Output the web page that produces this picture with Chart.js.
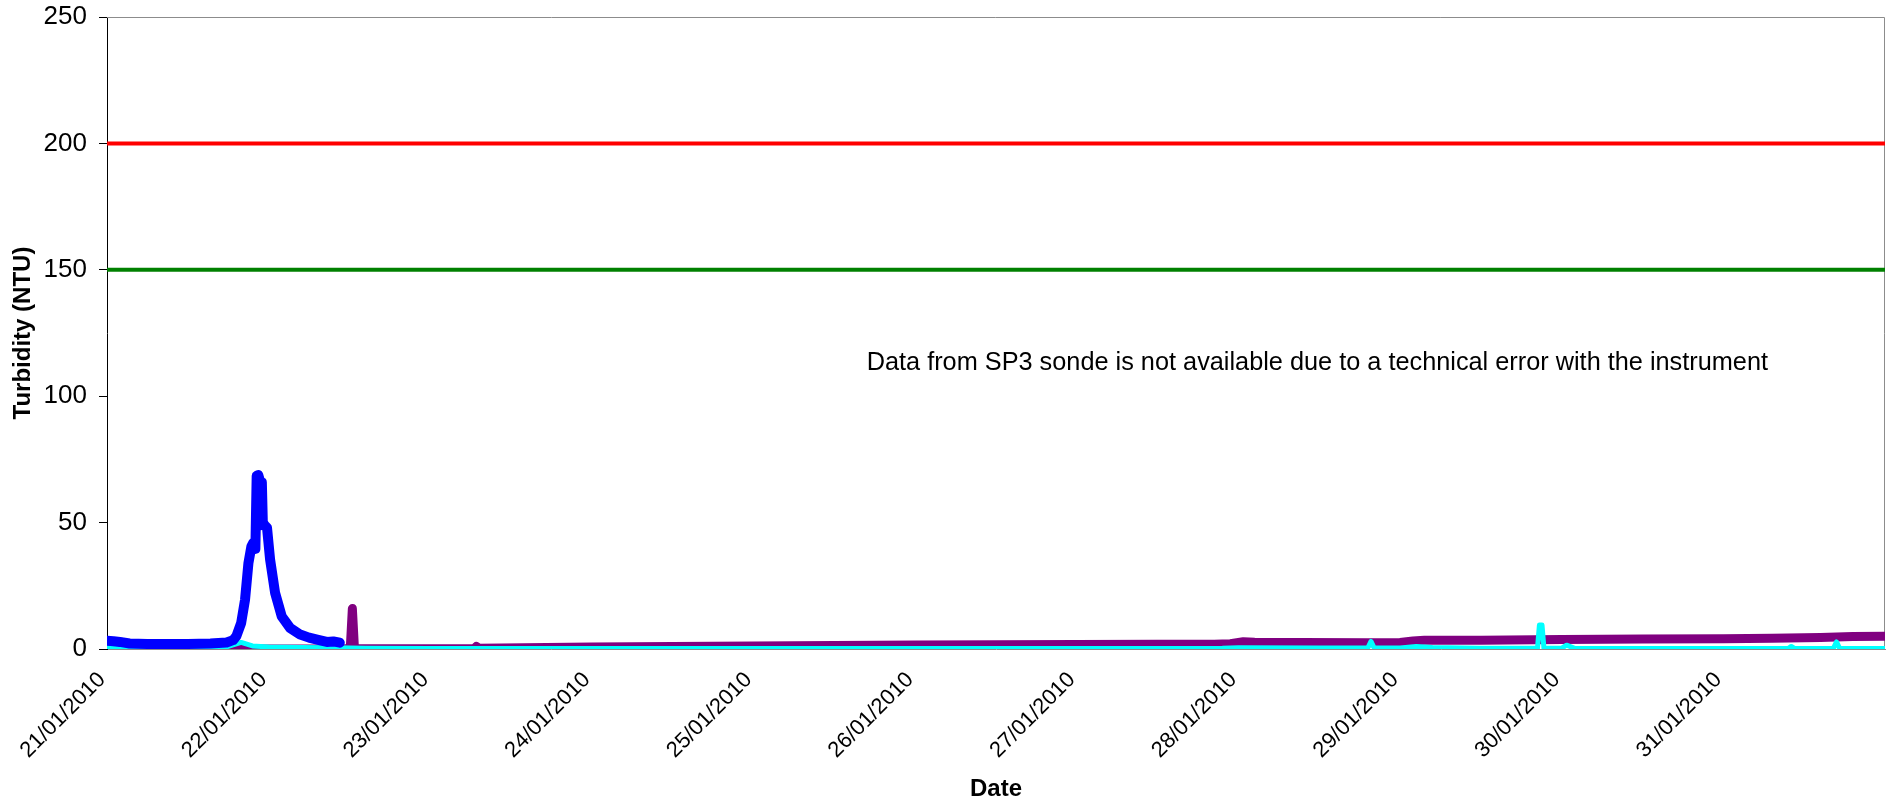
<!DOCTYPE html>
<html>
<head>
<meta charset="utf-8">
<script src="https://cdn.jsdelivr.net/npm/chart.js@4.4.1/dist/chart.umd.min.js"></script>
<style>
  html, body { margin: 0; padding: 0; background: #ffffff; }
  #wrap { width: 1886px; height: 807px; }
</style>
</head>
<body>
<div id="wrap"><canvas id="chart" width="1886" height="807"></canvas></div>
<script>
// Time axis is measured in days from 21/01/2010 00:00
const xTickLabels = ['21/01/2010', '22/01/2010', '23/01/2010', '24/01/2010', '25/01/2010',
  '26/01/2010', '27/01/2010', '28/01/2010', '29/01/2010', '30/01/2010', '31/01/2010'];
const yTicks = [0, 50, 100, 150, 200, 250];

// Blue sonde record (ends mid-day on 22/01)
const blueDays = [0, 0.04, 0.08, 0.14, 0.25, 0.37, 0.5, 0.64, 0.74, 0.78, 0.80, 0.83, 0.854,
  0.875, 0.893, 0.905, 0.918, 0.926, 0.936, 0.946, 0.952, 0.958, 0.964, 0.975, 0.99, 1.009,
  1.04, 1.081, 1.133, 1.195, 1.25, 1.30, 1.36, 1.40, 1.44];
const blueNTU = [3.3, 3.1, 2.8, 2.2, 2.0, 2.0, 2.0, 2.2, 2.6, 3.5, 5.0, 10.3, 19.5,
  34, 40.5, 42, 39.6, 68.5, 68.8, 66.5, 49, 66, 50, 49, 48, 35.4,
  22.2, 12.9, 8.3, 5.7, 4.5, 3.7, 2.8, 3.0, 2.5];

// Cyan sonde record
const cyanDays = [0, 0.3, 0.6, 0.75, 0.80, 0.83, 0.86, 0.9, 1.0, 1.2, 1.4, 1.6, 2, 3, 4, 5, 6,
  6.9, 7.0, 7.5, 7.80, 7.82, 7.84, 8.0, 8.1, 8.2, 8.5, 8.85, 8.862, 8.878, 8.89, 9.0, 9.03,
  9.08, 9.5, 10.0, 10.40, 10.42, 10.44, 10.68, 10.70, 10.72, 11];
const cyanNTU = [0.5, 0.6, 0.6, 1.0, 2.0, 2.6, 2.0, 1.2, 0.8, 0.6, 0.5, 0.3, 0.2, 0.2, 0.2, 0.2, 0.2,
  0.3, 0.5, 0.4, 0.4, 3.0, 0.4, 0.4, 1.0, 0.6, 0.3, 0.3, 9.5, 9.5, 0.3, 0.3, 1.5,
  0.3, 0.2, 0.2, 0.2, 1.0, 0.2, 0.2, 2.8, 0.2, 0.2];

// Purple sonde record
const purpleDays = [0, 0.5, 1.0, 1.45, 1.505, 1.518, 1.531, 1.8, 2.27, 2.285, 2.30, 3, 4, 4.5,
  5, 5.5, 6, 6.5, 6.85, 6.95, 7.03, 7.1, 7.4, 7.8, 8.0, 8.08, 8.15, 8.5, 9.0, 9.5, 10.0,
  10.3, 10.6, 10.8, 11];
const purpleNTU = [0, 0, 0, 0, 0.2, 16, 0.2, 0.1, 0.1, 1.0, 0.3, 0.8, 1.2, 1.4,
  1.6, 1.7, 1.8, 1.9, 1.9, 2.1, 2.9, 2.7, 2.6, 2.5, 2.6, 3.2, 3.5, 3.5, 3.8, 4.0, 4.1,
  4.3, 4.5, 4.9, 5.0];

// Guideline levels across the whole period
const limitDays = [0, 11];
const upperLevel = [200, 200];
const lowerLevel = [150, 150];

const noteText = 'Data from SP3 sonde is not available due to a technical error with the instrument';
const noteAt = { day: 4.7, ntu: 113 };

const FONT = "'Liberation Sans', Arial, sans-serif";

function pts(xs, ys) { return xs.map((x, i) => ({ x: x, y: ys[i] })); }

const lineStyle = { pointRadius: 0, pointHoverRadius: 0, tension: 0, fill: false,
  borderJoinStyle: 'round', borderCapStyle: 'round' };

// Grey frame around the plot area plus the explanatory note
const framePlugin = {
  id: 'frameAndNote',
  beforeDatasetsDraw(chart) {
    const { ctx, chartArea: a } = chart;
    ctx.save();
    ctx.strokeStyle = '#8c8c8c';
    ctx.lineWidth = 1;
    ctx.beginPath();
    ctx.moveTo(a.left, a.top + 0.5);
    ctx.lineTo(a.right - 0.5, a.top + 0.5);
    ctx.lineTo(a.right - 0.5, a.bottom);
    ctx.stroke();
    ctx.restore();
  },
  afterDatasetsDraw(chart) {
    const { ctx, scales } = chart;
    ctx.save();
    ctx.font = '25.3px ' + FONT;
    ctx.fillStyle = '#000000';
    ctx.textAlign = 'left';
    ctx.textBaseline = 'middle';
    ctx.fillText(noteText, scales.x.getPixelForValue(noteAt.day), scales.y.getPixelForValue(noteAt.ntu));
    ctx.restore();
  }
};

new Chart(document.getElementById('chart'), {
  type: 'line',
  data: {
    datasets: [
      Object.assign({ label: 'Series 1', data: pts(blueDays, blueNTU), borderColor: '#0000ff',
        borderWidth: 10, order: 1 }, lineStyle),
      Object.assign({ label: 'Series 2', data: pts(cyanDays, cyanNTU), borderColor: '#00ffff',
        borderWidth: 5, order: 2 }, lineStyle),
      Object.assign({ label: 'Series 3', data: pts(purpleDays, purpleNTU), borderColor: '#800080',
        borderWidth: 9, order: 3 }, lineStyle),
      Object.assign({ label: 'Lower level', data: pts(limitDays, lowerLevel), borderColor: '#008000',
        borderWidth: 4, order: 4, borderCapStyle: 'butt' }, { pointRadius: 0, tension: 0, fill: false }),
      Object.assign({ label: 'Upper level', data: pts(limitDays, upperLevel), borderColor: '#ff0000',
        borderWidth: 4, order: 5, borderCapStyle: 'butt' }, { pointRadius: 0, tension: 0, fill: false })
    ]
  },
  options: {
    responsive: false,
    animation: false,
    devicePixelRatio: 1,
    layout: { padding: { top: 17, right: 1, left: 0, bottom: 0 } },
    plugins: { legend: { display: false }, tooltip: { enabled: false } },
    scales: {
      x: {
        type: 'linear',
        min: 0,
        max: xTickLabels.length,
        afterBuildTicks(scale) {
          scale.ticks = xTickLabels.map((_, i) => ({ value: i }));
        },
        afterFit(scale) { scale.height = 158; },
        ticks: {
          autoSkip: false,
          maxRotation: 45,
          minRotation: 45,
          padding: 18,
          labelOffset: -5,
          color: '#000000',
          font: { family: FONT, size: 22 },
          callback(value) { return xTickLabels[value] || ''; }
        },
        grid: { drawOnChartArea: false, drawTicks: false },
        border: { color: '#8c8c8c', width: 1 },
        title: { display: true, text: 'Date', color: '#000000',
          font: { family: FONT, size: 24, weight: 'bold' }, padding: { top: 0, bottom: 3 } }
      },
      y: {
        min: 0,
        max: 250,
        afterBuildTicks(scale) {
          scale.ticks = yTicks.map(v => ({ value: v }));
        },
        afterFit(scale) {
          scale.width = 107;
          scale.paddingTop = 0;
        },
        ticks: {
          padding: 12,
          color: '#000000',
          font: { family: FONT, size: 26 }
        },
        grid: { drawOnChartArea: false, drawTicks: true, tickLength: 8, color: '#000000' },
        border: { color: '#000000', width: 1 },
        title: { display: true, text: 'Turbidity (NTU)', color: '#000000',
          font: { family: FONT, size: 24, weight: 'bold' }, padding: { top: 9, bottom: 0 } }
      }
    }
  },
  plugins: [framePlugin]
});
</script>
</body>
</html>
